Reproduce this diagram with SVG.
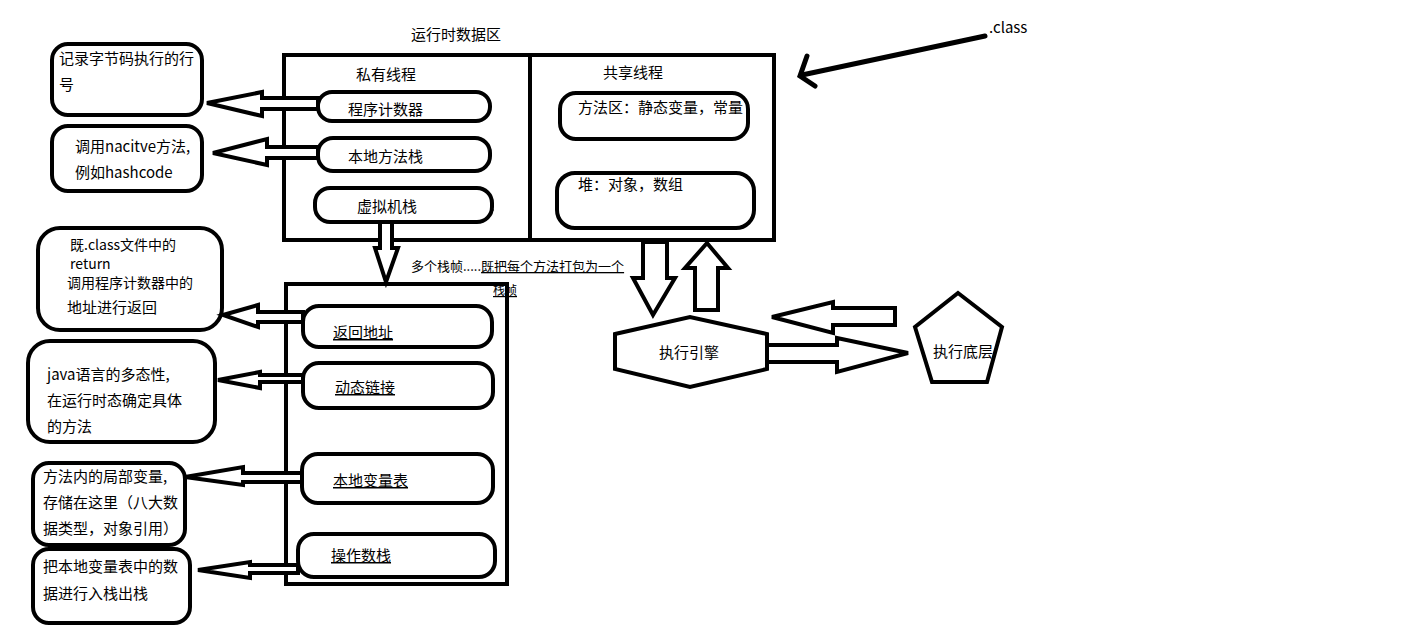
<svg xmlns="http://www.w3.org/2000/svg" width="1428" height="643" viewBox="0 0 1428 643">
<style>
text{font-family:"Microsoft YaHei","Noto Sans CJK SC","Liberation Sans",sans-serif;font-size:15px;fill:#000}
.box{fill:#fff;stroke:#000;stroke-width:4}
.pill{fill:#fff;stroke:#000;stroke-width:4}
.arr{fill:#fff;stroke:#000;stroke-width:4;stroke-linejoin:miter}
.u{text-decoration:underline}
.line{fill:none;stroke:#000;stroke-width:5;stroke-linecap:round}
.sm{font-size:14px}
</style>
<rect width="1428" height="643" fill="#fff"/>

<g id="runtime-area">
  <text x="411" y="40">运行时数据区</text>
  <rect class="box" x="284" y="55" width="490" height="185"/>
  <line x1="530" y1="55" x2="530" y2="240" stroke="#000" stroke-width="4"/>
  <text x="356" y="80">私有线程</text>
  <text x="603" y="78">共享线程</text>
</g>
<g id="pc">
  <rect class="pill" x="318" y="92" width="172" height="29" rx="14"/>
  <text x="348" y="115">程序计数器</text>
</g>
<g id="native-stack">
  <rect class="pill" x="318" y="138" width="172" height="33" rx="15"/>
  <text x="348" y="162">本地方法栈</text>
</g>
<g id="vm-stack">
  <rect class="pill" x="315" y="188" width="177" height="34" rx="15"/>
  <text x="357" y="212">虚拟机栈</text>
  <circle cx="493" cy="210" r="0.8" fill="#000"/>
</g>
<g id="method-area">
  <rect class="pill" x="560" y="93" width="188" height="46" rx="16"/>
  <text x="578" y="113">方法区：静态变量，常量</text>
</g>
<g id="heap">
  <rect class="pill" x="557" y="173" width="197" height="55" rx="18"/>
  <text x="578" y="190">堆：对象，数组</text>
</g>

<g id="class-label">
  <text x="989" y="33">.class</text>
</g>

<g id="note-pc">
  <rect class="box" x="52" y="44" width="150" height="71" rx="16"/>
  <text x="59" y="64">记录字节码执行的行</text>
  <text x="59" y="90">号</text>
</g>
<g id="note-native">
  <rect class="box" x="52" y="126" width="150" height="65" rx="16"/>
  <text x="75" y="152">调用nacitve方法,</text>
  <text x="75" y="178">例如hashcode</text>
</g>

<g id="stack-frame">
  <rect class="box" x="286" y="284" width="221" height="300"/>
  <text x="411" y="271" style="font-size:13px">多个栈帧.....<tspan class="u">既把每个方法打包为一个</tspan></text>
  <text x="493" y="295" class="u" style="font-size:12px">栈帧</text>
</g>
<g id="return-addr">
  <rect class="pill" x="303" y="306" width="189" height="41" rx="16"/>
  <text x="333" y="338" class="u">返回地址</text>
</g>
<g id="dyn-link">
  <rect class="pill" x="303" y="363" width="190" height="45" rx="16"/>
  <text x="335" y="393" class="u">动态链接</text>
</g>
<g id="local-vars">
  <rect class="pill" x="302" y="454" width="191" height="49" rx="16"/>
  <text x="333" y="486" class="u">本地变量表</text>
</g>
<g id="operand-stack">
  <rect class="pill" x="298" y="534" width="197" height="43" rx="16"/>
  <text x="331" y="561" class="u">操作数栈</text>
</g>

<g id="note-return">
  <rect class="box" x="38" y="228" width="184" height="102" rx="22"/>
  <text x="70" y="250" class="sm">既.class文件中的</text>
  <text x="70" y="269" class="sm">return</text>
  <text x="67" y="288" class="sm">调用程序计数器中的</text>
  <text x="67" y="313">地址进行返回</text>
</g>
<g id="note-dynlink">
  <rect class="box" x="28" y="341" width="187" height="101" rx="22"/>
  <text x="47" y="380">java语言的多态性,</text>
  <text x="47" y="406">在运行时态确定具体</text>
  <text x="47" y="432">的方法</text>
</g>
<g id="note-local">
  <rect class="box" x="33" y="463" width="152" height="82" rx="16"/>
  <text x="43" y="482">方法内的局部变量,</text>
  <text x="43" y="508">存储在这里（八大数</text>
  <text x="43" y="534">据类型，对象引用）</text>
</g>
<g id="note-operand">
  <rect class="box" x="33" y="549" width="157" height="74" rx="16"/>
  <text x="43" y="572">把本地变量表中的数</text>
  <text x="43" y="599">据进行入栈出栈</text>
</g>

<g id="exec-engine">
  <polygon class="box" points="615,334 690,317 767,334 767,369 690,387 615,369"/>
  <text x="659" y="358">执行引擎</text>
</g>
<g id="exec-bottom">
  <polygon class="box" points="958,293 1002,327 987,382 932,382 915,327"/>
  <text x="933" y="357">执行底层</text>
</g>

<g id="connectors">
  <line class="line" x1="985" y1="36" x2="802" y2="75"/>
  <polyline class="line" points="807,56 800,76 815,86"/>
  <polygon class="arr" points="318,98 262,98 262,92 207,103 262,116 262,109 318,109"/>
  <polygon class="arr" points="318,147 267,147 267,139 213,153 267,165 267,158 318,158"/>
  <polygon class="arr" points="380,222 392,222 392,248 398,248 386,282 375,248 380,248"/>
  <polygon class="arr" points="303,312 258,312 258,305 223,315 258,327 258,322 303,322"/>
  <polygon class="arr" points="303,375 260,375 260,372 218,380 260,388 260,382 303,382"/>
  <polygon class="arr" points="302,473 243,473 243,467 185,477 243,485 243,482 302,482"/>
  <polygon class="arr" points="298,565 250,565 250,562 198,570 250,578 250,573 298,573"/>
  <polygon class="arr" points="643,242 667,242 667,278 675,278 653,315 633,278 643,278"/>
  <polygon class="arr" points="695,310 718,310 718,268 728,268 707,243 685,268 695,268"/>
  <polygon class="arr" points="895,308 833,308 833,302 772,317 833,333 833,325 895,325"/>
  <polygon class="arr" points="767,345 837,345 837,338 908,353 837,372 837,362 767,362"/>
</g>
</svg>
